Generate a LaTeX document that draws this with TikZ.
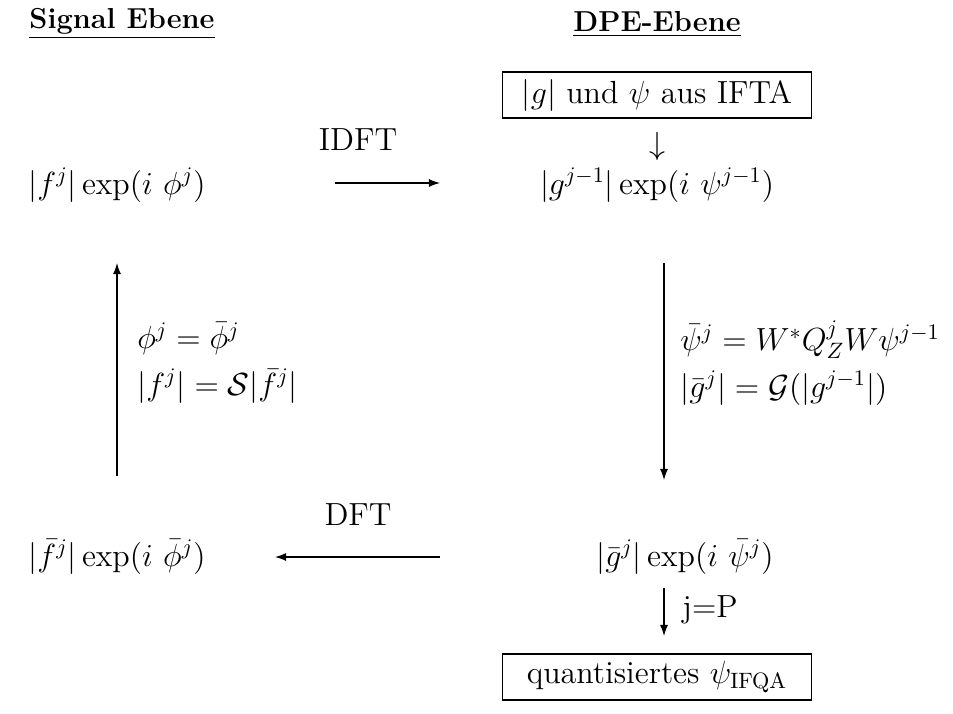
\documentclass[tikz,border=0pt]{standalone}
\usetikzlibrary{arrows.meta}
\begin{document}
\begin{tikzpicture}[x=0.45pt,y=-0.45pt,
  every node/.style={inner sep=0pt, font=\fontsize{14.4}{17}\selectfont},
  title/.style={font=\fontsize{13}{15}\selectfont\bfseries},
  box/.style={draw, line width=0.5pt, minimum width=139pt, minimum height=20.7pt},
  arr/.style={-{Latex[length=5pt,width=3.6pt]}, line width=0.5pt},
  eq/.style={anchor=west, align=left}]
\useasboundingbox (0,0) rectangle (953,713);
% titles
\node[title] (t1) at (122,24) {\underline{Signal Ebene}};
\node[title] (t2) at (657,24) {\underline{DPE-Ebene}};
% right column
\node[box] (ifta) at (657,95) {$|g|$ und $\psi$ aus IFTA};
\node (down) at (657,146) {$\downarrow$};
\node (g1) at (657,185) {$|g^{j-1}|\exp(i\ \psi^{j-1})$};
\node (g2) at (685,557) {$|\bar g^{j}|\exp(i\ \bar\psi^{j})$};
\node[box] (ifqa) at (657,677) {quantisiertes $\psi_{\mathrm{IFQA}}$};
% left column
\node (f1) at (117,185) {$|f^j|\exp(i\ \phi^j)$};
\node (f2) at (117,557) {$|\bar f^j|\exp(i\ \bar\phi^j)$};
% horizontal arrows
\node (idft) at (358,140) {IDFT};
\node (dft) at (358,515) {DFT};
\coordinate (idftS) at (335,183);
\coordinate (idftE) at (440,183);
\coordinate (dftS) at (440,557);
\coordinate (dftE) at (275,557);
\draw[arr] (idftS) -- (idftE);
\draw[arr] (dftS) -- (dftE);
% vertical arrows
\coordinate (lS) at (117,476);
\coordinate (lE) at (117,263);
\coordinate (rS) at (664,263);
\coordinate (rE) at (664,480);
\draw[arr] (lS) -- (lE);
\draw[arr] (rS) -- (rE);
\node[eq] (leq) at (137,363) {$\phi^j=\bar\phi^j$\\[4pt]$|f^j|=\mathcal{S}|\bar f^j|$};
\node[eq] (req) at (680,363) {$\bar\psi^j=W^*Q_Z^jW\psi^{j-1}$\\[4pt]$|\bar g^j|=\mathcal{G}(|g^{j-1}|)$};
% j=P arrow
\coordinate (pS) at (664,588);
\coordinate (pE) at (664,636);
\draw[arr] (pS) -- (pE);
\node[anchor=west] (jp) at (682,610) {j=P};
\end{tikzpicture}
\end{document}
